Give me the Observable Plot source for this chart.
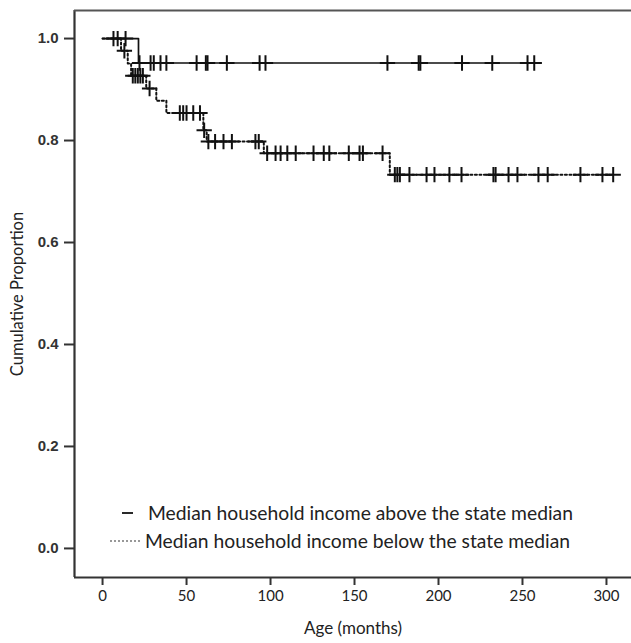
<!DOCTYPE html>
<html><head><meta charset="utf-8">
<script src="https://cdn.jsdelivr.net/npm/d3@7"></script>
<script src="https://cdn.jsdelivr.net/npm/@observablehq/plot@0.6"></script>
<style>
body{margin:0;background:#fff}
#chart svg [aria-label^="x-axis"] path, #chart svg [aria-label^="x-axis"] line,
#chart svg [aria-label^="y-axis"] path, #chart svg [aria-label^="y-axis"] line { stroke-width: 2px; stroke:#333; }
</style>
</head><body><div id="chart"></div>
<script>
// ---- data ----
const xTicks = [0, 50, 100, 150, 200, 250, 300];
const yTicks = [0, 0.2, 0.4, 0.6, 0.8, 1.0];
const seriesNames = [
  "Median household income above the state median",
  "Median household income below the state median"
];
const xTitle = "Age (months)";
const yTitle = "Cumulative Proportion";

// above state median (solid)
const aboveTimes = [0, 21.4];
const aboveSurv  = [1.0, 0.952];
const aboveEnd   = 258;
const aboveCensor = [6.5, 9, 13.7, 22, 28.6, 30.5, 34.5, 38, 56, 61.5, 62.5, 74, 93.5, 97, 169.6, 188.2, 189.2, 214, 232, 253, 257];

// below state median (dotted)
const belowTimes = [0, 11, 15, 17, 26, 32, 38, 60, 62, 96, 171];
const belowSurv  = [1.0, 0.976, 0.951, 0.927, 0.902, 0.878, 0.854, 0.82, 0.798, 0.775, 0.733];
const belowEnd   = 304;
const belowCensor = [13, 18, 19.5, 21, 22.5, 24, 28, 46, 48, 50, 54, 58, 60.5, 63, 67, 72, 77, 91, 93, 98, 103, 106, 110, 115,
  125.6, 131.7, 135, 146.6, 153, 155, 166.7, 174, 175.5, 177, 182.7, 192.9, 197.6, 206.5, 213.7, 232.7, 234, 241.7, 247,
  259.5, 265, 284.5, 297.6, 304];

// ---- helpers ----
function stepRows(times, surv, end) {
  const rows = times.map((t, i) => ({t, s: surv[i]}));
  rows.push({t: end, s: surv[surv.length - 1]});
  return rows;
}
function survAt(times, surv, t) {
  let s = surv[0];
  for (let i = 0; i < times.length; i++) if (times[i] <= t) s = surv[i];
  return s;
}
const aboveLine = stepRows(aboveTimes, aboveSurv, aboveEnd);
const belowLine = stepRows(belowTimes, belowSurv, belowEnd);
const aboveMarks = aboveCensor.map(t => ({t, s: survAt(aboveTimes, aboveSurv, t)}));
const belowMarks = belowCensor.map(t => ({t, s: survAt(belowTimes, belowSurv, t)}));

const xDomain = [-16.7, 314.9];
const yDomain = [-0.057, 1.055];
const ink = "#111";

const chart = Plot.plot({
  width: 631, height: 643,
  marginTop: 10, marginBottom: 66, marginLeft: 74, marginRight: 0,
  style: {fontFamily: "Lato, sans-serif", fontSize: "15px", color: "#222", background: "#fff"},
  x: {domain: xDomain, ticks: xTicks, tickSize: 8, tickPadding: 5, label: null},
  y: {domain: yDomain, ticks: yTicks, tickSize: 10, tickPadding: 6, tickFormat: d3.format(".1f"), label: null},
  marks: [
    Plot.ruleX([xDomain[0]], {stroke: "#333", strokeWidth: 2.2}),
    Plot.ruleY([yDomain[0]], {stroke: "#333", strokeWidth: 2.2}),
    Plot.ruleY([yDomain[1]], {stroke: "#555", strokeWidth: 2}),
    Plot.line(belowLine, {x: "t", y: "s", curve: "step-after", stroke: ink, strokeWidth: 2, strokeDasharray: "2,2.5"}),
    Plot.line(aboveLine, {x: "t", y: "s", curve: "step-after", stroke: ink, strokeWidth: 1.7}),
    Plot.dot(belowMarks, {x: "t", y: "s", symbol: "plus", r: 5, stroke: ink, strokeWidth: 2}),
    Plot.dot(aboveMarks, {x: "t", y: "s", symbol: "plus", r: 5, stroke: ink, strokeWidth: 2}),
    Plot.text([xTitle], {frameAnchor: "bottom", dy: 51, lineAnchor: "middle", textAnchor: "middle", fontSize: 17, fontFamily: "Lato, sans-serif", fill: "#222"}),
    Plot.text([yTitle], {frameAnchor: "left", dx: -57, rotate: -90, textAnchor: "middle", lineAnchor: "middle", fontSize: 16.5, fontFamily: "Lato, sans-serif", fill: "#222"})
  ]
});

// y tick labels in an Arial-like face
d3.select(chart).selectAll('g[aria-label^="y-axis"] text')
  .attr("font-family", "'Liberation Sans', Arial, sans-serif").attr("font-size", 15).attr("font-weight", "bold").attr("fill", "#333");

// legend inside the plot area (bottom-left)
const svg = d3.select(chart);
const lg = svg.append("g").attr("font-family", "Lato, sans-serif").attr("font-size", 19.3)
  .attr("fill", "#222").attr("text-anchor", "start");
const legendRows = [
  {name: seriesNames[0], dash: null, x1: 122, x2: 133, tx: 148, y: 513},
  {name: seriesNames[1], dash: "2,2", x1: 110, x2: 142, tx: 145, y: 541}
];
legendRows.forEach(r => {
  lg.append("line").attr("x1", r.x1).attr("x2", r.x2).attr("y1", r.y).attr("y2", r.y)
    .attr("stroke", r.dash ? "#777" : ink).attr("stroke-width", r.dash ? 1.3 : 1.8)
    .attr("stroke-dasharray", r.dash);
  lg.append("text").attr("x", r.tx).attr("y", r.y).attr("dy", "0.35em").attr("text-anchor", "start").text(r.name);
});

document.getElementById("chart").appendChild(chart);
</script>
</body></html>
